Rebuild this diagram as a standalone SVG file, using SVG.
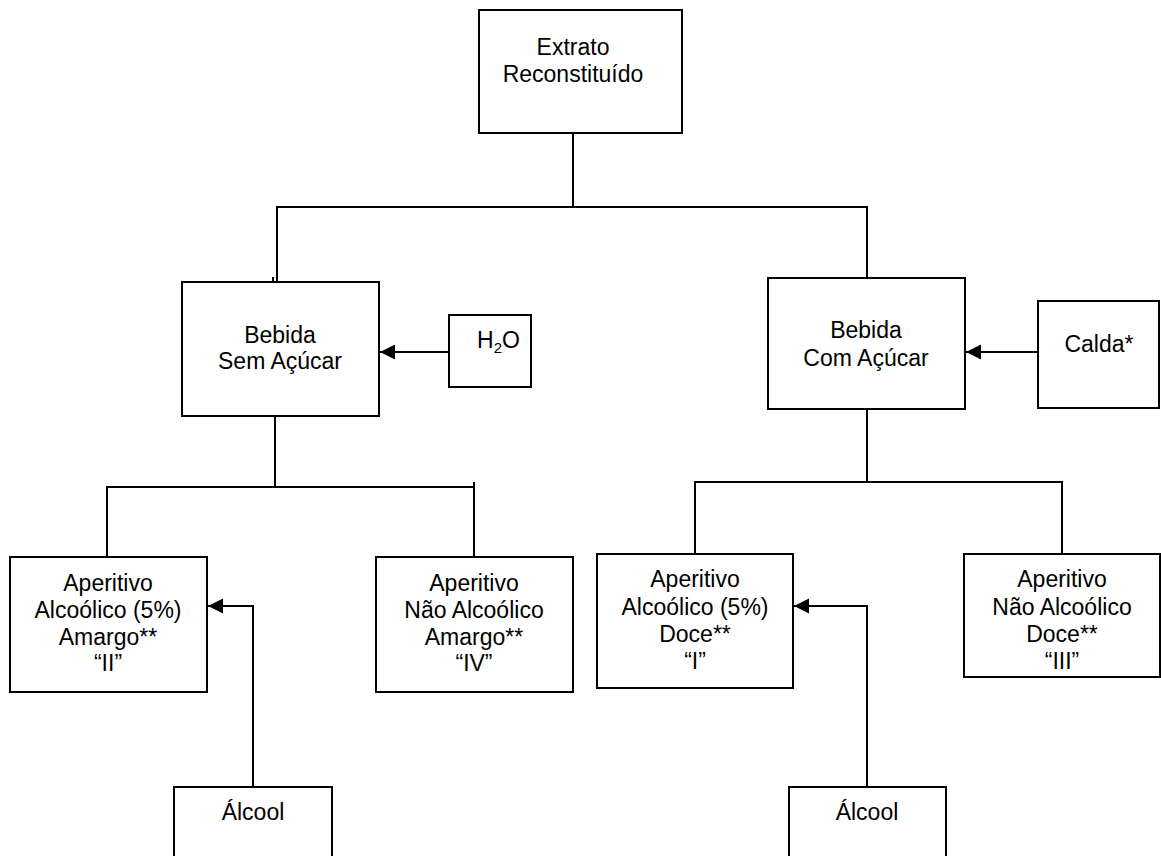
<svg xmlns="http://www.w3.org/2000/svg" width="1161" height="856" viewBox="0 0 1161 856">
<style>
.box{fill:#fff;stroke:#000;stroke-width:2}
.ln{fill:none;stroke:#000;stroke-width:2}
text{font-family:"Liberation Sans",Arial,sans-serif;font-size:23px;fill:#000;text-anchor:middle}
</style>
<defs>
<marker id="ah" markerUnits="userSpaceOnUse" markerWidth="16" markerHeight="16" refX="15" refY="7.5" orient="auto">
<path d="M0,0 L15,7.5 L0,15 Z" fill="#000"/>
</marker>
</defs>
<g id="connectors">
<path class="ln" d="M573,133 V207"/>
<path class="ln" d="M277,207 H867"/>
<path class="ln" d="M277,206 V282"/>
<path class="ln" d="M273,277 V282"/>
<path class="ln" d="M867,206 V278"/>
<path class="ln" d="M275,416 V487"/>
<path class="ln" d="M107,487 H474"/>
<path class="ln" d="M107,486 V557"/>
<path class="ln" d="M474,482 V557"/>
<path class="ln" d="M867,409 V482"/>
<path class="ln" d="M695,482 H1062"/>
<path class="ln" d="M695,481 V554"/>
<path class="ln" d="M1062,481 V554"/>
<path class="ln" d="M449,352 H380" marker-end="url(#ah)"/>
<path class="ln" d="M1038,352 H966" marker-end="url(#ah)"/>
<path class="ln" d="M253,787 V606 H208" marker-end="url(#ah)"/>
<path class="ln" d="M867,787 V606 H794" marker-end="url(#ah)"/>
</g>
<g id="extrato">
<rect class="box" x="479" y="10" width="203" height="123"/>
<text x="573" y="55">Extrato</text>
<text x="573" y="82">Reconstituído</text>
</g>
<g id="sem-acucar">
<rect class="box" x="182" y="282" width="197" height="134"/>
<text x="280" y="343">Bebida</text>
<text x="280" y="369">Sem Açúcar</text>
</g>
<g id="h2o">
<rect class="box" x="449" y="315" width="82" height="72"/>
<text x="477" y="348" style="text-anchor:start">H<tspan font-size="15" dy="5">2</tspan><tspan dy="-5">O</tspan></text>
</g>
<g id="com-acucar">
<rect class="box" x="768" y="278" width="197" height="131"/>
<text x="866" y="338">Bebida</text>
<text x="866" y="366">Com Açúcar</text>
</g>
<g id="calda">
<rect class="box" x="1038" y="301" width="121" height="107"/>
<text x="1099" y="352">Calda*</text>
</g>
<g id="ap-ii">
<rect class="box" x="10" y="557" width="197" height="135"/>
<text x="108" y="591">Aperitivo</text>
<text x="108" y="618">Alcoólico (5%)</text>
<text x="108" y="645">Amargo**</text>
<text x="108" y="671">“II”</text>
</g>
<g id="ap-iv">
<rect class="box" x="376" y="557" width="197" height="135"/>
<text x="474" y="591">Aperitivo</text>
<text x="474" y="618">Não Alcoólico</text>
<text x="474" y="645">Amargo**</text>
<text x="474" y="671">“IV”</text>
</g>
<g id="ap-i">
<rect class="box" x="597" y="554" width="196" height="134"/>
<text x="695" y="587">Aperitivo</text>
<text x="695" y="615">Alcoólico (5%)</text>
<text x="695" y="642">Doce**</text>
<text x="695" y="669">“I”</text>
</g>
<g id="ap-iii">
<rect class="box" x="964" y="554" width="196" height="123"/>
<text x="1062" y="587">Aperitivo</text>
<text x="1062" y="615">Não Alcoólico</text>
<text x="1062" y="642">Doce**</text>
<text x="1062" y="669">“III”</text>
</g>
<g id="alcool-1">
<rect class="box" x="174" y="787" width="158" height="80"/>
<text x="253" y="820">Álcool</text>
</g>
<g id="alcool-2">
<rect class="box" x="789" y="787" width="157" height="80"/>
<text x="867" y="820">Álcool</text>
</g>
</svg>
